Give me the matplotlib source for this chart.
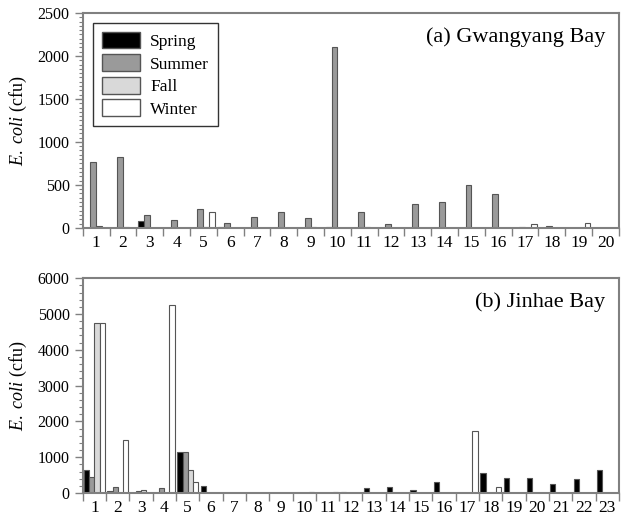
import numpy as np
import matplotlib
matplotlib.use("Agg")
import matplotlib.pyplot as plt
from matplotlib.ticker import MultipleLocator, FixedLocator, NullFormatter
from matplotlib.patches import Patch

plt.rcParams['font.family'] = ['Liberation Serif']
plt.rcParams['mathtext.fontset'] = 'custom'
plt.rcParams['mathtext.rm'] = 'Liberation Serif'
plt.rcParams['mathtext.it'] = 'Liberation Serif:italic'

seasons = ["Spring", "Summer", "Fall", "Winter"]

# (a) Gwangyang Bay, stations 1-20
gw_stations = list(range(1, 21))
gw_spring = [0, 0, 78, 0, 0, 12, 0, 0, 0, 12, 0, 0, 0, 0, 0, 0, 0, 0, 0, 0]
gw_summer = [770, 828, 148, 93, 218, 58, 128, 183, 113, 2100, 183, 47, 273, 303, 495, 393, 15, 18, 0, 0]
gw_fall = [20, 10, 0, 0, 15, 0, 0, 0, 10, 0, 10, 0, 0, 0, 0, 0, 0, 0, 0, 0]
gw_winter = [0, 0, 0, 0, 183, 0, 0, 0, 0, 0, 0, 0, 0, 0, 0, 0, 45, 0, 60, 0]

# (b) Jinhae Bay, stations 1-23
jh_stations = list(range(1, 24))
jh_spring = [630, 45, 0, 0, 1150, 200, 0, 0, 0, 0, 0, 40, 130, 167, 93, 297, 0, 547, 418, 418, 251, 380, 630]
jh_summer = [455, 156, 45, 130, 1150, 0, 0, 0, 0, 0, 0, 0, 0, 0, 0, 0, 0, 0, 0, 0, 0, 0, 0]
jh_fall = [4750, 0, 90, 0, 630, 0, 0, 0, 0, 0, 0, 0, 0, 0, 0, 0, 0, 0, 0, 0, 0, 0, 0]
jh_winter = [4750, 1490, 0, 5250, 300, 0, 0, 0, 0, 30, 30, 0, 0, 0, 0, 0, 1740, 170, 0, 0, 0, 0, 0]

colors = ["#000000", "#9a9a9a", "#d9d9d9", "#ffffff"]
edge = "#555555"
spine_col = "#808080"

fig = plt.figure(figsize=(6.27, 5.19), dpi=100)
ax1 = fig.add_axes([0.132, 0.561, 0.855, 0.414])
ax2 = fig.add_axes([0.132, 0.050, 0.855, 0.414])

def draw(ax, stations, series, ymax, major, minor, label):
    x = np.arange(1, len(stations) + 1)
    w = 0.22
    for i, (vals, c) in enumerate(zip(series, colors)):
        ax.bar(x + (i - 1.5) * w, vals, width=w, color=c, edgecolor=edge, linewidth=0.8)
    ax.set_xlim(0.5, len(stations) + 0.5)
    ax.set_ylim(0, ymax)
    ax.yaxis.set_major_locator(MultipleLocator(major))
    ax.yaxis.set_minor_locator(MultipleLocator(minor))
    ax.xaxis.set_major_locator(FixedLocator(np.arange(0.5, len(stations) + 1, 1.0)))
    ax.xaxis.set_major_formatter(NullFormatter())
    ax.set_xticks(x, [str(s) for s in stations], minor=True)
    ax.tick_params(axis='x', which='major', direction='out', length=6, width=1, color=spine_col)
    ax.tick_params(axis='x', which='minor', length=0, labelsize=12.5, pad=5)
    ax.tick_params(axis='y', which='major', direction='out', length=6, width=1, color=spine_col, labelsize=11.5)
    ax.tick_params(axis='y', which='minor', direction='out', length=3, width=0.8, color=spine_col)
    for sp in ax.spines.values():
        sp.set_color(spine_col)
        sp.set_linewidth(1.5)
    ax.set_ylabel(r'$\it{E.\ coli}$' + ' (cfu)', fontsize=13, labelpad=6)
    ax.text(0.975, 0.935, label, transform=ax.transAxes, ha='right', va='top', fontsize=16)

draw(ax1, gw_stations, [gw_spring, gw_summer, gw_fall, gw_winter], 2500, 500, 50, "(a) Gwangyang Bay")
draw(ax2, jh_stations, [jh_spring, jh_summer, jh_fall, jh_winter], 6000, 1000, 200, "(b) Jinhae Bay")

handles = [Patch(facecolor=c, edgecolor=edge, label=s) for s, c in zip(seasons, colors)]
leg = ax1.legend(handles=handles, loc='upper left', bbox_to_anchor=(0.019, 0.953), borderaxespad=0,
                 fontsize=12.5, fancybox=False, frameon=True, edgecolor='black',
                 handlelength=2.2, handleheight=1.1,
                 borderpad=0.5, labelspacing=0.25, handletextpad=0.6)
leg.get_frame().set_linewidth(1.0)

fig.savefig("out.png", dpi=100)
